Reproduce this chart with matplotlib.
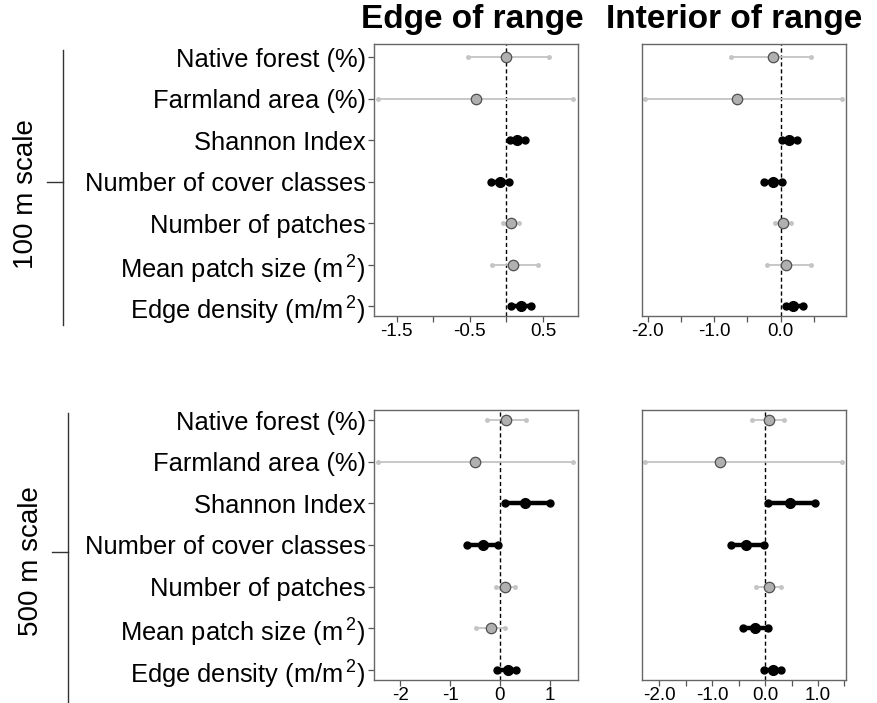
import matplotlib.pyplot as plt
from matplotlib.lines import Line2D

plt.rcParams['font.family'] = ['Liberation Sans', 'DejaVu Sans']
plt.rcParams['mathtext.fontset'] = 'custom'
plt.rcParams['mathtext.rm'] = 'Liberation Sans'

Variables = ['Native forest (%)', 'Farmland area (%)', 'Shannon Index',
             'Number of cover classes', 'Number of patches',
             'Mean patch size (m$^{\\,2}$)', 'Edge density (m/m$^{\\,2}$)']

# estimates and 95% intervals, top row of plot first
Edge100Est = [-0.01, -0.41, 0.14, -0.09, 0.06, 0.09, 0.20]
Edge100Lo = [-0.53, -1.76, 0.05, -0.21, -0.05, -0.19, 0.07]
Edge100Hi = [0.58, 0.91, 0.25, 0.03, 0.17, 0.43, 0.34]
Edge100Sig = [0, 0, 1, 1, 0, 0, 1]

Interior100Est = [-0.11, -0.66, 0.125, -0.11, 0.03, 0.075, 0.19]
Interior100Lo = [-0.75, -2.035, 0.02, -0.245, -0.08, -0.21, 0.075]
Interior100Hi = [0.45, 0.915, 0.24, 0.02, 0.155, 0.455, 0.34]
Interior100Sig = [0, 0, 1, 1, 0, 0, 1]

Edge500Est = [0.12, -0.495, 0.50, -0.33, 0.11, -0.18, 0.155]
Edge500Lo = [-0.25, -2.44, 0.11, -0.655, -0.08, -0.47, -0.05]
Edge500Hi = [0.52, 1.47, 1.0, -0.03, 0.30, 0.11, 0.33]
Edge500Sig = [0, 0, 1, 1, 0, 0, 1]

Interior500Est = [0.075, -0.85, 0.47, -0.365, 0.075, -0.19, 0.145]
Interior500Lo = [-0.24, -2.27, 0.045, -0.645, -0.175, -0.42, -0.02]
Interior500Hi = [0.365, 1.45, 0.945, -0.03, 0.30, 0.045, 0.30]
Interior500Sig = [0, 0, 1, 1, 0, 1, 1]

Ticks100Edge = [-1.5, -1.0, -0.5, 0.0, 0.5]
Labels100Edge = ['-1.5', '', '-0.5', '', '0.5']
Ticks100Interior = [-2.0, -1.5, -1.0, -0.5, 0.0, 0.5]
Labels100Interior = ['-2.0', '', '-1.0', '', '0.0', '']
Ticks500Edge = [-2, -1, 0, 1]
Labels500Edge = ['-2', '-1', '0', '1']
Ticks500Interior = [-2.0, -1.5, -1.0, -0.5, 0.0, 0.5, 1.0, 1.5]
Labels500Interior = ['-2.0', '', '-1.0', '', '0.0', '', '1.0', '']

fig = plt.figure(figsize=(8.77, 7.03), dpi=100)

W, H = 877.0, 703.0
panels = [
    # left, top, right, bottom (pixels), data, xlim, ylim, ticks, labels, show names
    (374, 44, 578, 316, Edge100Est, Edge100Lo, Edge100Hi, Edge100Sig,
     (-1.81, 0.98), (0.76, 7.32), Ticks100Edge, Labels100Edge, True),
    (642, 44, 846, 316, Interior100Est, Interior100Lo, Interior100Hi, Interior100Sig,
     (-2.085, 0.98), (0.76, 7.32), Ticks100Interior, Labels100Interior, False),
    (374, 410, 578, 680, Edge500Est, Edge500Lo, Edge500Hi, Edge500Sig,
     (-2.53, 1.57), (0.76, 7.24), Ticks500Edge, Labels500Edge, True),
    (642, 410, 846, 680, Interior500Est, Interior500Lo, Interior500Hi, Interior500Sig,
     (-2.33, 1.53), (0.76, 7.24), Ticks500Interior, Labels500Interior, False),
]

ypos = list(range(len(Variables), 0, -1))

for (l, t, r, b, est, lo, hi, sig, xl, yl, ticks, labels, names) in panels:
    ax = fig.add_axes([l / W, 1 - b / H, (r - l) / W, (b - t) / H])
    ax.axvline(0, color='black', lw=1, ls=(0, (3, 2)), zorder=1)
    for i in range(len(Variables)):
        y = ypos[i]
        if sig[i]:
            ax.plot([lo[i], hi[i]], [y, y], color='black', lw=3.2,
                    solid_capstyle='round', zorder=2)
            ax.plot([lo[i], hi[i]], [y, y], 'o', color='black', ms=5, zorder=3)
            ax.plot(est[i], y, 'o', color='black', ms=7, zorder=4)
        else:
            ax.plot([lo[i], hi[i]], [y, y], color='#c4c4c4', lw=1.3, zorder=2)
            ax.plot([lo[i], hi[i]], [y, y], 'o', color='#c4c4c4', ms=2.5, zorder=2)
            ax.plot(est[i], y, 'o', mfc='#b0b0b0', mec='#505050', mew=0.9,
                    ms=7.5, zorder=4)
    ax.set_xlim(xl)
    ax.set_ylim(yl)
    ax.set_xticks(ticks)
    ax.set_xticklabels(labels, fontsize=13.5)
    if names:
        ax.set_yticks(ypos)
        ax.set_yticklabels(Variables, fontsize=18.4)
    else:
        ax.set_yticks([])
    ax.tick_params(axis='both', direction='out', length=4, width=0.9,
                   color='#555555', pad=2)
    ax.tick_params(axis='x', pad=1)
    for s in ax.spines.values():
        s.set_color('#666666')
        s.set_linewidth(1.0)

# column titles
fig.text(472 / W, 1 - 4 / H, 'Edge of range', ha='center', va='top',
         fontsize=24, fontweight='bold')
fig.text(734 / W, 1 - 4 / H, 'Interior of range', ha='center', va='top',
         fontsize=24, fontweight='bold')

# scale brackets on the left
for (x, y0, y1, ym, label, ty) in [(63, 50, 325, 182, '100 m scale', 194),
                                   (68, 413, 703, 552, '500 m scale', 561)]:
    fig.add_artist(Line2D([x / W, x / W], [1 - y0 / H, 1 - y1 / H],
                          color='#333333', lw=1))
    fig.add_artist(Line2D([(x - 16) / W, x / W], [1 - ym / H, 1 - ym / H],
                          color='#333333', lw=1))
    fig.text((x - 37) / W, 1 - ty / H, label, rotation=90, ha='center',
             va='center', fontsize=20)

plt.savefig('out.png', dpi=100)
